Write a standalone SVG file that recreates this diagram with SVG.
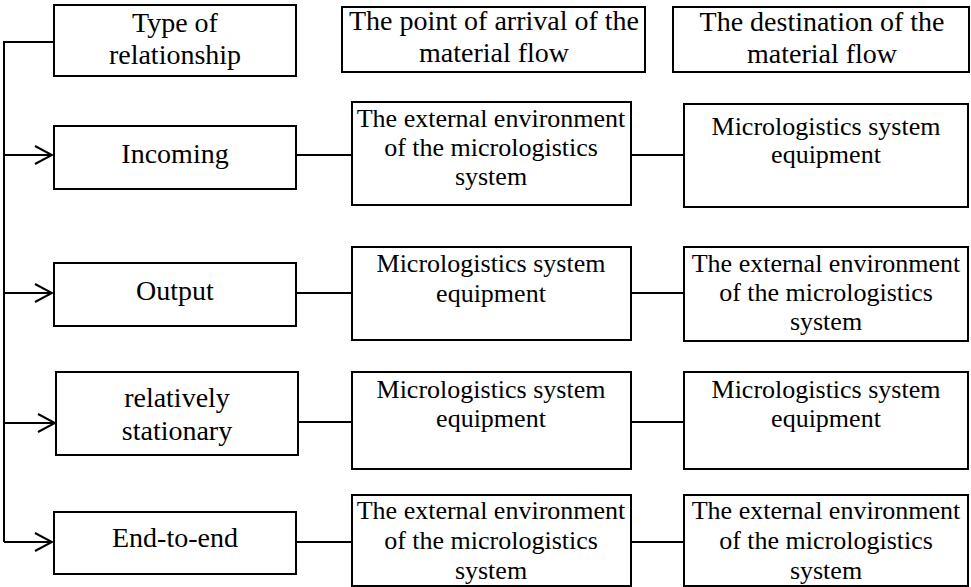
<svg xmlns="http://www.w3.org/2000/svg" width="971" height="587" viewBox="0 0 971 587">
<style>
rect{fill:#fff;stroke:#000;stroke-width:2}
.c line,.c path{stroke:#000;stroke-width:2;fill:none}
text{font-family:"Liberation Serif","Times New Roman",serif;fill:#000;text-anchor:middle}
.l{font-size:28px}
.m{font-size:26px}
</style>
<defs>
<marker id="arr" markerUnits="userSpaceOnUse" markerWidth="20" markerHeight="22" refX="18" refY="10" orient="auto" viewBox="0 0 20 20">
<path d="M1,1 L18,10 L1,19" fill="none" stroke="#000" stroke-width="2"/>
</marker>
</defs>
<rect x="0" y="0" width="971" height="587" style="stroke:none"/>
<g class="c" id="connectors">
<path d="M54,42 H4 V542"/>
<line x1="4" y1="155" x2="52" y2="155" marker-end="url(#arr)"/>
<line x1="4" y1="293" x2="52" y2="293" marker-end="url(#arr)"/>
<line x1="4" y1="423" x2="55" y2="423" marker-end="url(#arr)"/>
<line x1="4" y1="542" x2="52" y2="542" marker-end="url(#arr)"/>
<line x1="296" y1="155" x2="352" y2="155"/>
<line x1="631" y1="155" x2="684" y2="155"/>
<line x1="296" y1="293" x2="352" y2="293"/>
<line x1="631" y1="293" x2="684" y2="293"/>
<line x1="298" y1="422" x2="352" y2="422"/>
<line x1="631" y1="422" x2="684" y2="422"/>
<line x1="296" y1="542" x2="352" y2="542"/>
<line x1="631" y1="542" x2="684" y2="542"/>
</g>
<g id="h-type"><rect x="54" y="5" width="242" height="71"/><text class="l" x="175" y="32">Type of</text><text class="l" x="175" y="64">relationship</text></g>
<g id="h-arrival"><rect x="342" y="7" width="303" height="65"/><text class="l" x="494" y="30">The point of arrival of the</text><text class="l" x="494" y="62">material flow</text></g>
<g id="h-dest"><rect x="673" y="7" width="296" height="65"/><text class="l" x="822" y="31">The destination of the</text><text class="l" x="822" y="63">material flow</text></g>

<g id="incoming"><rect x="54" y="126" width="242" height="63"/><text class="l" x="175" y="163">Incoming</text></g>
<g id="incoming-arr"><rect x="352" y="102" width="279" height="103"/><text class="m" x="491" y="127">The external environment</text><text class="m" x="491" y="156">of the micrologistics</text><text class="m" x="491" y="185">system</text></g>
<g id="incoming-dst"><rect x="684" y="104" width="284" height="103"/><text class="m" x="826" y="135">Micrologistics system</text><text class="m" x="826" y="163">equipment</text></g>

<g id="output"><rect x="54" y="263" width="242" height="63"/><text class="l" x="175" y="300">Output</text></g>
<g id="output-arr"><rect x="352" y="247" width="279" height="93"/><text class="m" x="491" y="272">Micrologistics system</text><text class="m" x="491" y="302">equipment</text></g>
<g id="output-dst"><rect x="684" y="247" width="284" height="94"/><text class="m" x="826" y="272">The external environment</text><text class="m" x="826" y="301">of the micrologistics</text><text class="m" x="826" y="330">system</text></g>

<g id="stationary"><rect x="56" y="372" width="242" height="83"/><text class="l" x="177" y="407">relatively</text><text class="l" x="177" y="440">stationary</text></g>
<g id="stationary-arr"><rect x="352" y="372" width="279" height="97"/><text class="m" x="491" y="398">Micrologistics system</text><text class="m" x="491" y="427">equipment</text></g>
<g id="stationary-dst"><rect x="684" y="372" width="284" height="97"/><text class="m" x="826" y="398">Micrologistics system</text><text class="m" x="826" y="427">equipment</text></g>

<g id="endtoend"><rect x="54" y="512" width="242" height="62"/><text class="l" x="175" y="547">End-to-end</text></g>
<g id="endtoend-arr"><rect x="352" y="495" width="279" height="91"/><text class="m" x="491" y="519">The external environment</text><text class="m" x="491" y="549">of the micrologistics</text><text class="m" x="491" y="579">system</text></g>
<g id="endtoend-dst"><rect x="684" y="495" width="284" height="91"/><text class="m" x="826" y="519">The external environment</text><text class="m" x="826" y="549">of the micrologistics</text><text class="m" x="826" y="579">system</text></g>
</svg>
